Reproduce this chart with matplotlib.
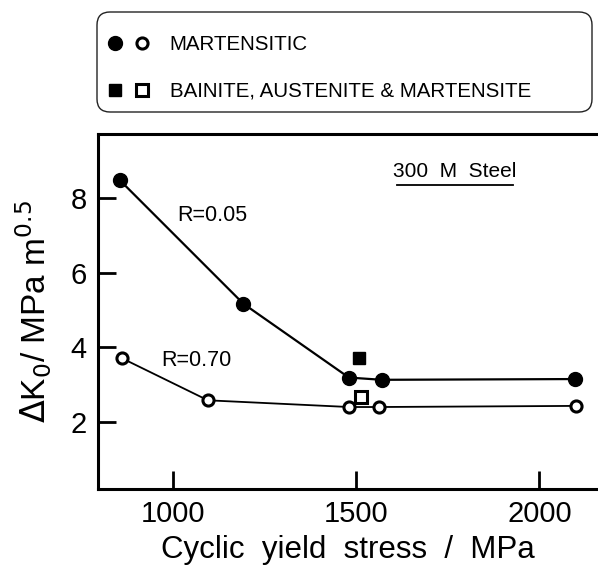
import matplotlib
matplotlib.use("Agg")
import matplotlib.pyplot as plt
from matplotlib.lines import Line2D
from matplotlib.legend_handler import HandlerTuple
from matplotlib.patches import FancyBboxPatch

plt.rcParams['font.family'] = ['Liberation Sans', 'DejaVu Sans']

# martensitic steel, R = 0.05 and R = 0.70
x_r005 = [855, 1192, 1480, 1570, 2097]
k_r005 = [8.48, 5.17, 3.19, 3.13, 3.15]
x_r070 = [860, 1095, 1480, 1563, 2100]
k_r070 = [3.71, 2.58, 2.40, 2.40, 2.43]

# bainite, austenite & martensite
x_mixed_r005 = [1507]
k_mixed_r005 = [3.71]
x_mixed_r070 = [1513]
k_mixed_r070 = [2.67]

xticks = [1000, 1500, 2000]
yticks = [2, 4, 6, 8]

fig = plt.figure(figsize=(5.98, 5.66), dpi=100)
ax = fig.add_axes([0.1639, 0.136, 0.836, 0.627])

ax.plot(x_r005, k_r005, '-', color='black', lw=1.6, marker='o', ms=10,
        mfc='black', mec='black', zorder=3)
ax.plot(x_r070, k_r070, '-', color='black', lw=1.3, marker='o', ms=8,
        mfc='white', mec='black', mew=2.2, zorder=3)
ax.plot(x_mixed_r005, k_mixed_r005, 's', color='black', ms=9, zorder=3)
ax.plot(x_mixed_r070, k_mixed_r070, 's', ms=8, mfc='white', mec='black',
        mew=2.2, zorder=3)

ax.text(1108, 7.54, 'R=0.05', fontsize=15.5, ha='center', va='center')
ax.text(1064, 3.65, 'R=0.70', fontsize=15.5, ha='center', va='center')
ax.text(1768, 8.72, '300  M  Steel', fontsize=15, ha='center', va='center')
ax.plot([1610, 1928], [8.36, 8.36], color='black', lw=1.3)

ax.set_xlim(795, 2160)
ax.set_ylim(0.2, 9.72)
ax.set_xticks(xticks)
ax.set_yticks(yticks)
ax.tick_params(direction='in', length=13, width=2, labelsize=21, pad=8)
for side in ['left', 'bottom', 'top']:
    ax.spines[side].set_linewidth(2.2)
ax.spines['right'].set_visible(False)

ax.set_xlabel('Cyclic  yield  stress  /  MPa', fontsize=22.5, labelpad=5)
ax.set_ylabel(r'$\Delta$K$_0$/ MPa m$^{0.5}$', fontsize=24, labelpad=12)

# key above the plot, in a rounded box
box = FancyBboxPatch((0.97, 4.54), 4.95, 1.0,
                     boxstyle='round,pad=0,rounding_size=0.13',
                     transform=fig.dpi_scale_trans, fill=False,
                     edgecolor='#222222', lw=1.0)
fig.add_artist(box)

h_circ = (Line2D([], [], ls='', marker='o', ms=10, mfc='black', mec='black'),
          Line2D([], [], ls='', marker='o', ms=8, mfc='white', mec='black', mew=2.2))
h_sq = (Line2D([], [], ls='', marker='s', ms=9, mfc='black', mec='black'),
        Line2D([], [], ls='', marker='s', ms=8, mfc='white', mec='black', mew=2.2))
fig.legend([h_circ, h_sq], ['MARTENSITIC', 'BAINITE, AUSTENITE & MARTENSITE'],
           handler_map={tuple: HandlerTuple(ndivide=None, pad=0.6)},
           loc='upper left', bbox_to_anchor=(107.7 / 598, 1 - 35 / 566),
           fontsize=14.8, frameon=False, handlelength=2.02,
           handletextpad=1.0, labelspacing=1.35, borderpad=0,
           borderaxespad=0)

fig.savefig('out.png', dpi=100)
